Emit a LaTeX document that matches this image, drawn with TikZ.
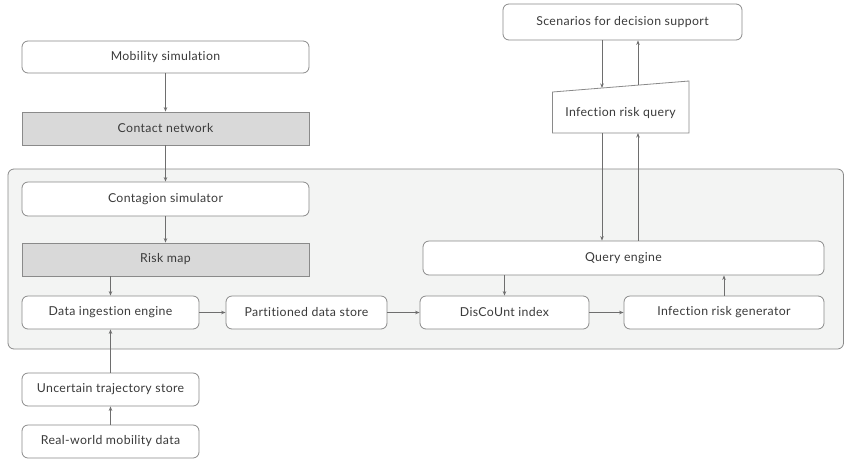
\documentclass[tikz,border=0pt]{standalone}
\usepackage{fontspec}
\setmainfont{Lato}[LetterSpace=3,Ligatures={NoCommon,NoRare,NoDiscretionary}]
\usetikzlibrary{arrows.meta,calc}
\definecolor{edgec}{HTML}{8A8A8A}
\definecolor{linec}{HTML}{6E6E6E}
\definecolor{grayfill}{HTML}{D9D9D9}
\definecolor{contfill}{HTML}{F3F4F3}
\definecolor{txt}{HTML}{3A3A3A}
\begin{document}
\begin{tikzpicture}[x=1pt,y=-1pt,
  lbl/.style={inner sep=0pt,text=txt,font=\fontsize{12.3}{14}\selectfont},
  box/.style={lbl,draw=edgec,line width=0.8pt,rounded corners=6pt,fill=white},
  graybox/.style={lbl,draw=edgec,line width=0.8pt,fill=grayfill},
  conn/.style={draw=linec,line width=0.8pt,-{Stealth[length=4.5pt,width=3.5pt]}}]
\useasboundingbox (0,0) rectangle (844,459);
\fill[white] (0,0) rectangle (844,459);
% container
\draw[draw=edgec,line width=0.8pt,fill=contfill,rounded corners=6pt] (8,169) rectangle (843.5,349);
% nodes
\node[box,minimum width=287pt,minimum height=32pt] (mob) at (165.5,57) {Mobility simulation};
\node[graybox,minimum width=287pt,minimum height=33pt] (con) at (165.5,128.5) {Contact network};
\node[box,minimum width=287pt,minimum height=34pt] (cgs) at (165.5,199) {Contagion simulator};
\node[graybox,minimum width=287pt,minimum height=33pt] (risk) at (165.5,259.5) {Risk map};
\node[box,minimum width=177pt,minimum height=33pt] (din) at (110.5,312.5) {Data ingestion engine};
\node[box,minimum width=161pt,minimum height=33pt] (pds) at (306.5,312.5) {Partitioned data store};
\node[box,minimum width=169pt,minimum height=33pt] (dis) at (504.5,312.5) {DisCoUnt index};
\node[box,minimum width=200pt,minimum height=33pt] (irg) at (724,312.5) {Infection risk generator};
\node[box,minimum width=401pt,minimum height=34pt] (qe) at (623.5,258) {Query engine};
\node[box,minimum width=239pt,minimum height=36pt] (scn) at (622.5,22) {Scenarios for decision support};
\node[box,minimum width=177pt,minimum height=33pt] (uts) at (110.5,389.5) {Uncertain trajectory store};
\node[box,minimum width=177pt,minimum height=33pt] (rwm) at (110.5,441.5) {Real-world mobility data};
% manual input trapezoid
\draw[draw=edgec,line width=0.8pt,fill=white] (552.5,92) -- (689,81) -- (689,133) -- (552.5,133) -- cycle;
\node[lbl] (irq) at (620.5,113) {Infection risk query};
\coordinate (irqtA) at (602,88);
\coordinate (irqtB) at (638,85.1);
\coordinate (irqbA) at (602,133);
\coordinate (irqbB) at (638,133);
% connectors
\draw[conn] (mob.south) -- (con.north);
\draw[conn] (con.south) -- (cgs.north);
\draw[conn] (cgs.south) -- (risk.north);
\draw[conn] (risk.south -| din.north) -- (din.north);
\draw[conn] (uts.north) -- (din.south);
\draw[conn] (rwm.north) -- (uts.south);
\draw[conn] (din.east) -- (pds.west);
\draw[conn] (pds.east) -- (dis.west);
\draw[conn] (dis.east) -- (irg.west);
\draw[conn] (qe.south -| dis.north) -- (dis.north);
\draw[conn] (irg.north) -- (irg.north |- qe.south);
\draw[conn] (scn.south -| irqtA) -- (irqtA);
\draw[conn] (irqtB) -- (scn.south -| irqtB);
\draw[conn] (irqbA) -- (qe.north -| irqbA);
\draw[conn] (qe.north -| irqbB) -- (irqbB);
\end{tikzpicture}
\end{document}
